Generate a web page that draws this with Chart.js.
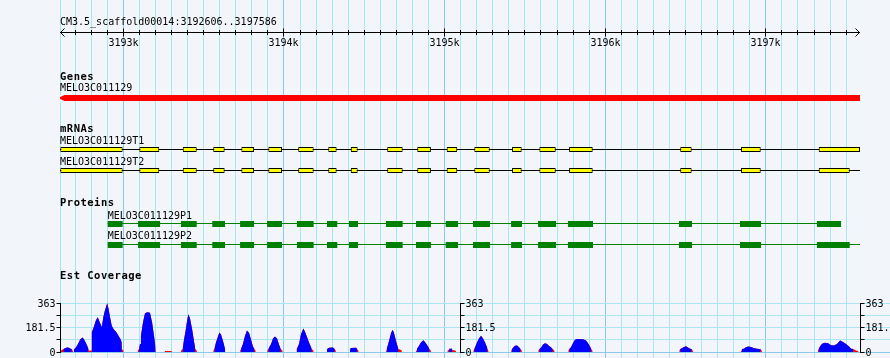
<!DOCTYPE html>
<html>
<head>
<meta charset="utf-8">
<script src="https://cdn.jsdelivr.net/npm/chart.js@4.4.1/dist/chart.umd.min.js"></script>
<style>
html,body{margin:0;padding:0;background:#f2f5fa;}
canvas{display:block;}
</style>
</head>
<body>
<canvas id="c" width="890" height="358"></canvas>
<script>
// ===================== DATA =====================
const scaffold = 'CM3.5_scaffold00014';
const viewStart = 3192606;
const viewEnd = 3197586;

const rulerMajorTicks = [3193000, 3194000, 3195000, 3196000, 3197000];
const rulerMajorLabels = ['3193k', '3194k', '3195k', '3196k', '3197k'];

const trackTitles = ['Genes', 'mRNAs', 'Proteins', 'Est Coverage'];

const geneName = 'MELO3C011129';
const geneStart = 3192606;
const geneEnd = 3197586;

const mrnaNames = ['MELO3C011129T1', 'MELO3C011129T2'];
const mrnaStart = [3192606, 3192606];
const mrnaEnd = [3197586, 3197586];
const exonStart = [3192608, 3193100, 3193370, 3193560, 3193735, 3193903, 3194089, 3194276, 3194416, 3194643,
                   3194830, 3195013, 3195185, 3195420, 3195590, 3195775, 3196467, 3196845, 3197329];
const t1ExonEnd = [3192996, 3193224, 3193457, 3193631, 3193814, 3193988, 3194185, 3194328, 3194459, 3194739,
                   3194915, 3195079, 3195281, 3195480, 3195692, 3195922, 3196538, 3196968, 3197586];
const t2ExonEnd = [3192996, 3193224, 3193457, 3193631, 3193814, 3193988, 3194185, 3194328, 3194459, 3194739,
                   3194915, 3195079, 3195281, 3195480, 3195692, 3195922, 3196538, 3196968, 3197522];

const proteinNames = ['MELO3C011129P1', 'MELO3C011129P2'];
const proteinStart = [3192903, 3192903];
const proteinEnd = [3197468, 3197586];
const cdsStart = [3192903, 3193092, 3193359, 3193554, 3193727, 3193895, 3194081, 3194268, 3194405, 3194635,
                  3194822, 3195007, 3195177, 3195414, 3195582, 3195768, 3196459, 3196839, 3197318];
const p1CdsEnd = [3192996, 3193229, 3193457, 3193633, 3193814, 3193988, 3194185, 3194332, 3194461, 3194739,
                  3194915, 3195084, 3195283, 3195482, 3195694, 3195924, 3196540, 3196970, 3197468];
const p2CdsEnd = [3192996, 3193229, 3193457, 3193633, 3193814, 3193988, 3194185, 3194332, 3194461, 3194739,
                  3194915, 3195084, 3195283, 3195482, 3195694, 3195924, 3196540, 3196970, 3197522];

const covMaxValue = 363;
const covTicks = [0, 90.75, 181.5, 272.25, 363];
const covTickLabels = ['0', '', '181.5', '', '363'];

const estPos = [
  3192612,3192613,3192628,3192637,3192650,3192662,3192671,3192679,3192686,3192687,
  3192692,3192693,3192706,3192718,3192731,3192745,3192755,3192768,3192777,3192783,3192784,3192803,
  3192804,3192818,3192830,3192841,3192852,3192866,3192876,3192886,3192900,3192908,3192917,3192928,3192939,3192958,3192970,3192983,3192990,3192991,3193000,3193001,
  3193089,3193090,3193098,3193104,3193110,3193123,3193135,3193148,3193166,3193179,3193191,3193199,3193201,
  3193259,3193260,3193301,3193302,
  3193359,3193360,3193370,3193378,3193387,3193397,3193405,3193415,3193428,3193440,3193448,3193457,3193458,
  3193560,3193561,3193567,3193577,3193598,3193608,3193621,3193633,3193634,
  3193727,3193728,3193733,3193745,3193758,3193770,3193783,3193795,3193807,3193816,3193823,3193824,
  3193896,3193897,3193903,3193920,3193932,3193944,3193957,3193969,3193980,3193990,3193991,
  3194077,3194078,3194081,3194094,3194106,3194121,3194131,3194144,3194156,3194169,3194173,3194183,3194184,
  3194268,3194269,3194281,3194305,3194316,3194322,3194323,
  3194411,3194412,3194418,3194449,3194455,3194463,3194464,
  3194635,3194636,3194640,3194654,3194667,3194677,3194685,3194698,3194712,3194723,3194733,3194734,
  3194822,3194823,3194828,3194838,3194853,3194868,3194878,3194897,3194906,3194914,3194915,
  3195018,3195019,3195028,3195029,3195046,3195047,3195070,3195071,
  3195179,3195180,3195185,3195202,3195214,3195227,3195239,3195252,3195264,3195267,3195272,3195273,
  3195414,3195415,3195420,3195429,3195438,3195451,3195463,3195473,3195480,3195481,
  3195583,3195584,3195590,3195600,3195613,3195625,3195638,3195650,3195662,3195673,3195683,3195684,
  3195770,3195771,3195776,3195787,3195799,3195812,3195824,3195862,3195880,3195893,3195905,3195913,3195920,3195921,
  3196461,3196462,3196467,3196478,3196490,3196503,3196515,3196528,3196538,3196545,3196546,
  3196845,3196846,3196851,3196864,3196876,3196891,3196908,3196926,3196945,3196957,3196967,3196974,3196975,
  3197323,3197324,3197329,3197337,3197350,3197368,3197387,3197406,3197424,3197443,3197462,3197480,3197499,3197518,3197530,3197544,3197561,3197576,3197577
];
const estVal = [
  0,12,22,28,33,32,24,22,10,0,
  0,18,35,60,90,107,95,65,40,22,12,12,
  145,190,235,258,225,185,260,310,362,320,260,195,170,145,120,95,70,22,12,0,
  0,12,22,60,120,220,285,295,290,220,120,45,0,
  0,8,8,0,
  0,12,22,90,150,230,280,250,170,80,22,12,0,
  0,12,22,70,144,130,80,24,0,
  0,12,22,60,120,160,140,90,40,22,12,0,
  0,12,22,60,100,115,100,55,22,12,0,
  0,12,22,60,130,174,150,110,70,35,22,12,0,
  0,23,32,33,22,12,0,
  0,23,30,32,22,12,0,
  0,12,22,80,140,165,140,80,22,18,12,0,
  0,12,22,40,70,87,75,40,22,12,0,
  0,12,16,24,24,16,10,0,
  0,12,22,70,100,120,100,70,35,22,12,0,
  0,12,22,35,47,48,35,22,12,0,
  0,12,22,32,55,65,60,45,35,22,12,0,
  0,12,22,35,65,90,97,95,85,65,40,22,12,0,
  0,12,22,28,37,42,33,24,22,10,0,
  0,12,22,25,35,40,37,28,25,23,22,10,0,
  0,12,22,40,62,69,65,50,48,60,85,75,60,40,25,22,12,6,0
];

// ===================== LAYOUT / STYLE =====================
const W = 890, H = 358;
const PAD_LEFT = 60;
const VIEW_PX = 800;
const BG = '#f2f5fa';
const GRID_MINOR = '#a9e6ef';
const GRID_MAJOR = '#8cc8ea';
const FONT = '10px "DejaVu Sans Mono", "Liberation Mono", monospace';
const FONT_BOLD = 'bold 10.5px "DejaVu Sans Mono", "Liberation Mono", monospace';
const GRID_STEP = 100;

const ROW_GENE = 98, ROW_T = [149.5, 170.5], ROW_P = [224, 245];
const TITLE_Y = 25, RULER_Y = 32.5, RULER_LABEL_Y = 45.5;
const TRACK_TITLE_Y = [80, 131.5, 205.5, 279];
const GENE_LABEL_Y = 91, MRNA_LABEL_Y = [143.5, 164.5], PROT_LABEL_Y = [218.5, 239];
const COV_ZERO_PX = 352, COV_TOP_PX = 303;
const EST_LOW = 22;   // bins at or below this are drawn in the low-coverage colour

const xMax = viewStart + (W - PAD_LEFT) / VIEW_PX * (viewEnd - viewStart);
const unitsPerPx = covMaxValue / (COV_ZERO_PX - COV_TOP_PX);
const covMin = -(H - COV_ZERO_PX) * unitsPerPx;
const covMax = covMaxValue + COV_TOP_PX * unitsPerPx;

// ===================== DATASETS =====================
function bars(starts, ends, row, color, thick, border) {
  return {
    type: 'bar', indexAxis: 'y', xAxisID: 'x', yAxisID: 'yTrack',
    data: starts.map((s, i) => ({x: [s, ends[i]], y: row})),
    backgroundColor: color,
    borderColor: border ? '#000000' : color,
    borderWidth: border ? 1 : 0,
    borderSkipped: false, inflateAmount: 0,
    barThickness: thick, maxBarThickness: thick,
    grouped: false, order: 1
  };
}
function hline(s, e, y, color) {
  return {
    type: 'line', xAxisID: 'x', yAxisID: 'yTrack',
    data: [{x: s, y: y}, {x: e, y: y}],
    borderColor: color, borderWidth: 1, pointRadius: 0, fill: false, tension: 0, order: 3
  };
}
// full coverage profile (drawn in red underneath)
const estAll = estPos.map((p, i) => ({x: p, y: estVal[i]}));
// blue part: a point is kept when it, or one of its neighbours, is above the low threshold
const estHigh = estPos.map((p, i) => {
  const keep = estVal[i] > EST_LOW || (i > 0 && estVal[i - 1] > EST_LOW) || (i < estVal.length - 1 && estVal[i + 1] > EST_LOW);
  return {x: p, y: keep ? estVal[i] : null};
});

const datasets = [
  {
    type: 'line', xAxisID: 'x', yAxisID: 'yCov', data: estHigh,
    backgroundColor: '#0000ff', borderColor: 'rgba(0,0,0,0)', borderWidth: 0,
    pointRadius: 0, tension: 0, fill: 'origin', spanGaps: false, order: 5
  },
  {
    type: 'line', xAxisID: 'x', yAxisID: 'yCov', data: estAll,
    backgroundColor: '#ff0000', borderColor: 'rgba(0,0,0,0)', borderWidth: 0,
    pointRadius: 0, tension: 0, fill: 'origin', order: 6
  },
  hline(mrnaStart[0], mrnaEnd[0], ROW_T[0], '#000000'),
  hline(mrnaStart[1], mrnaEnd[1], ROW_T[1], '#000000'),
  hline(proteinStart[0], proteinEnd[0], ROW_P[0] - 0.5, '#008000'),
  hline(proteinStart[1], proteinEnd[1], ROW_P[1] - 0.5, '#008000'),
  bars([geneStart], [geneEnd], ROW_GENE, '#ff0000', 6, false),
  bars(exonStart, t1ExonEnd, ROW_T[0], '#ffff00', 5, true),
  bars(exonStart, t2ExonEnd, ROW_T[1], '#ffff00', 5, true),
  bars(cdsStart, p1CdsEnd, ROW_P[0], '#008000', 6, false),
  bars(cdsStart, p2CdsEnd, ROW_P[1], '#008000', 6, false)
];

// ===================== PLUGIN (text, ruler, axes) =====================
const gbrowse = {
  id: 'gbrowse',
  beforeDraw(chart) {
    const {ctx} = chart;
    ctx.save();
    ctx.fillStyle = BG;
    ctx.fillRect(0, 0, chart.width, chart.height);
    ctx.restore();
  },
  afterDatasetsDraw(chart) {
    const {ctx} = chart;
    const xs = chart.scales.x, yc = chart.scales.yCov, yt = chart.scales.yTrack;
    const X = v => xs.getPixelForValue(v);
    const Yc = v => yc.getPixelForValue(v);
    const Yt = v => yt.getPixelForValue(v);
    const crisp = p => Math.round(p - 0.5) + 0.5;
    ctx.save();

    // gene strand arrow (left pointing tip)
    const gx = X(geneStart), gm = Yt(ROW_GENE), gt = gm - 3, gb = gm + 3;
    ctx.fillStyle = BG;
    ctx.beginPath(); ctx.moveTo(gx - 1, gt); ctx.lineTo(gx + 4.5, gt); ctx.lineTo(gx - 1, gm - 0.5); ctx.closePath(); ctx.fill();
    ctx.beginPath(); ctx.moveTo(gx - 1, gb); ctx.lineTo(gx + 4.5, gb); ctx.lineTo(gx - 1, gm + 0.5); ctx.closePath(); ctx.fill();

    // ruler
    ctx.strokeStyle = '#000'; ctx.lineWidth = 1;
    const rx0 = X(viewStart), rx1 = X(viewEnd);
    ctx.beginPath();
    ctx.moveTo(rx0, RULER_Y); ctx.lineTo(rx1, RULER_Y);
    ctx.moveTo(rx0 + 4.5, RULER_Y - 4); ctx.lineTo(rx0 + 0.5, RULER_Y); ctx.lineTo(rx0 + 4.5, RULER_Y + 4);
    ctx.moveTo(rx1 - 4.5, RULER_Y - 4); ctx.lineTo(rx1 - 0.5, RULER_Y); ctx.lineTo(rx1 - 4.5, RULER_Y + 4);
    for (let v = Math.ceil(viewStart / GRID_STEP) * GRID_STEP; v < viewEnd; v += GRID_STEP) {
      const major = rulerMajorTicks.includes(v);
      const tx = crisp(X(v)), h = major ? 4 : 2.5;
      ctx.moveTo(tx, RULER_Y - h); ctx.lineTo(tx, RULER_Y + h);
    }
    ctx.stroke();

    ctx.fillStyle = '#000';
    ctx.font = FONT;
    ctx.textBaseline = 'alphabetic';
    ctx.textAlign = 'center';
    rulerMajorTicks.forEach((v, i) => ctx.fillText(rulerMajorLabels[i], crisp(X(v)), RULER_LABEL_Y));
    ctx.textAlign = 'left';
    ctx.fillText(scaffold + ':' + viewStart + '..' + viewEnd, rx0, TITLE_Y);

    // feature labels
    ctx.fillText(geneName, Math.max(rx0, X(geneStart)), GENE_LABEL_Y);
    mrnaNames.forEach((n, i) => ctx.fillText(n, Math.max(rx0, X(mrnaStart[i])), MRNA_LABEL_Y[i]));
    proteinNames.forEach((n, i) => ctx.fillText(n, Math.max(rx0, X(proteinStart[i])), PROT_LABEL_Y[i]));

    // track titles
    ctx.font = FONT_BOLD;
    try { ctx.letterSpacing = '0.5px'; } catch (e) {}
    trackTitles.forEach((t, i) => ctx.fillText(t, rx0, TRACK_TITLE_Y[i]));
    try { ctx.letterSpacing = '0px'; } catch (e) {}

    // coverage axes
    ctx.font = FONT;
    const axisPos = [viewStart, (viewStart + viewEnd) / 2, viewEnd];
    const axisDir = [-1, 1, 1];
    axisPos.forEach((pos, i) => {
      const ax = crisp(X(pos)), dir = axisDir[i];
      const top = crisp(Yc(covMaxValue)), bot = crisp(Yc(0));
      ctx.beginPath();
      ctx.moveTo(ax, top - 0.5); ctx.lineTo(ax, bot + 0.5);
      covTicks.forEach(t => { const ty = crisp(Yc(t)); ctx.moveTo(ax, ty); ctx.lineTo(ax + dir * 4, ty); });
      ctx.stroke();
      ctx.textAlign = dir < 0 ? 'right' : 'left';
      covTicks.forEach((t, j) => {
        if (covTickLabels[j]) ctx.fillText(covTickLabels[j], ax + dir * 5, crisp(Yc(t)) + 3.5);
      });
    });
    ctx.restore();
  }
};

// ===================== CHART =====================
new Chart(document.getElementById('c'), {
  type: 'line',
  data: {datasets},
  options: {
    responsive: false, animation: false, devicePixelRatio: 1, events: [],
    layout: {padding: {left: PAD_LEFT, right: 0, top: 0, bottom: 0}},
    plugins: {legend: {display: false}, tooltip: {enabled: false}, title: {display: false}},
    scales: {
      x: {
        type: 'linear', position: 'bottom', min: viewStart, max: xMax,
        offset: false, beginAtZero: false,
        afterBuildTicks: s => {
          const t = [{value: viewStart}];
          for (let v = Math.ceil(viewStart / GRID_STEP) * GRID_STEP; v < viewEnd; v += GRID_STEP) t.push({value: v});
          s.ticks = t;
        },
        afterFit: s => { s.height = 0; },
        ticks: {display: false},
        border: {display: false},
        grid: {
          offset: false, drawTicks: false, lineWidth: 1,
          color: c => (c.tick && c.tick.value % 1000 === 0) ? GRID_MAJOR : GRID_MINOR
        }
      },
      yTrack: {
        type: 'linear', position: 'left', min: 0, max: H, reverse: true,
        offset: false, display: false, grid: {offset: false}
      },
      yCov: {
        type: 'linear', position: 'left', min: covMin, max: covMax,
        offset: false, beginAtZero: false,
        afterBuildTicks: s => { s.ticks = covTicks.map(v => ({value: v})); },
        afterFit: s => { s.width = 0; },
        ticks: {display: false},
        border: {display: false},
        grid: {
          offset: false, drawTicks: false, lineWidth: 1,
          color: c => (c.tick && c.tick.value === 0) ? GRID_MAJOR : GRID_MINOR
        }
      }
    }
  },
  plugins: [gbrowse]
});
</script>
</body>
</html>
